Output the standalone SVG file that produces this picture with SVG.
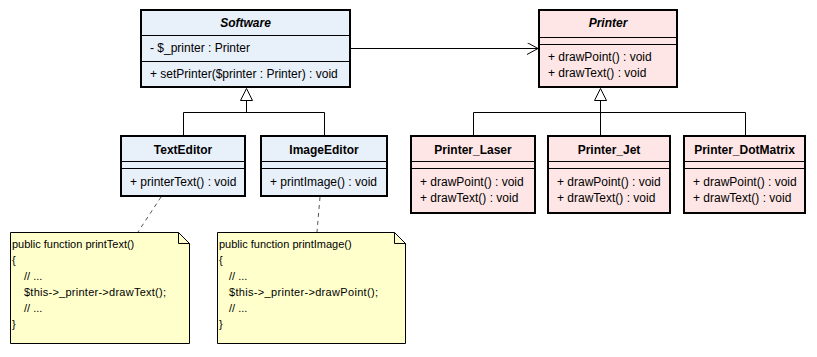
<svg xmlns="http://www.w3.org/2000/svg" width="817" height="357" viewBox="0 0 817 357">
  <defs>
    <style>
      text { font-family: "Liberation Sans", Arial, sans-serif; font-size: 12px; fill: #000; }
      .title { font-weight: bold; font-size: 12px; text-anchor: middle; }
      .abstract { font-style: italic; }
      .code { font-size: 11px; }
      .box { stroke: #000; stroke-width: 2; }
      .blue { fill: #E8F0FA; }
      .pink { fill: #FFE6E6; }
      .div { stroke: #000; stroke-width: 1; }
      .note { fill: #FFFFCC; stroke: #000; stroke-width: 1; }
      .line { fill: none; stroke: #000; stroke-width: 1; }
      .dash { fill: none; stroke: #555; stroke-width: 1; stroke-dasharray: 4 4; }
      .tri { fill: #fff; stroke: #000; stroke-width: 1; }
    </style>
    <marker id="open" viewBox="0 0 12 12" refX="11" refY="6" markerWidth="12" markerHeight="12" markerUnits="userSpaceOnUse" orient="auto">
      <path d="M0,0 L11,6 L0,12" fill="none" stroke="#000" stroke-width="1"/>
    </marker>
  </defs>

  <g id="connectors">
    <!-- association Software -> Printer -->
    <path class="line" d="M350,48.5 H538" marker-end="url(#open)"/>
    <!-- generalization to Software -->
    <path class="line" d="M183.5,135 V112.5 H324.5 V135 M246.5,112.5 V100"/>
    <path class="tri" d="M246.5,88.5 L240.5,100.5 H252.5 Z"/>
    <!-- generalization to Printer -->
    <path class="line" d="M473.5,135 V112.5 H745.5 V135 M600.5,135 V100"/>
    <path class="tri" d="M600.5,88.5 L594.5,100.5 H606.5 Z"/>
    <!-- note anchors -->
    <path class="dash" d="M161,197 L138,232"/>
    <path class="dash" d="M320,197 L317,232"/>
  </g>

  <g id="Software">
    <rect class="box blue" x="141" y="10" width="209" height="77"/>
    <line class="div" x1="141" y1="35.5" x2="350" y2="35.5"/>
    <line class="div" x1="141" y1="61.5" x2="350" y2="61.5"/>
    <text class="title abstract" x="245.5" y="27">Software</text>
    <text x="150" y="52">- $_printer : Printer</text>
    <text x="150" y="78">+ setPrinter($printer : Printer) : void</text>
  </g>

  <g id="Printer">
    <rect class="box pink" x="539" y="10" width="138" height="77"/>
    <line class="div" x1="539" y1="37.5" x2="677" y2="37.5"/>
    <line class="div" x1="539" y1="44.5" x2="677" y2="44.5"/>
    <text class="title abstract" x="608" y="27">Printer</text>
    <text x="548" y="61">+ drawPoint() : void</text>
    <text x="548" y="77">+ drawText() : void</text>
  </g>

  <g id="TextEditor">
    <rect class="box blue" x="121" y="136" width="124" height="60"/>
    <line class="div" x1="121" y1="161.5" x2="245" y2="161.5"/>
    <line class="div" x1="121" y1="168.5" x2="245" y2="168.5"/>
    <text class="title" x="183" y="154">TextEditor</text>
    <text x="130" y="186">+ printerText() : void</text>
  </g>

  <g id="ImageEditor">
    <rect class="box blue" x="261" y="136" width="126" height="60"/>
    <line class="div" x1="261" y1="161.5" x2="387" y2="161.5"/>
    <line class="div" x1="261" y1="168.5" x2="387" y2="168.5"/>
    <text class="title" x="324" y="154">ImageEditor</text>
    <text x="270" y="186">+ printImage() : void</text>
  </g>

  <g id="Printer_Laser">
    <rect class="box pink" x="411" y="136" width="124" height="77"/>
    <line class="div" x1="411" y1="161.5" x2="535" y2="161.5"/>
    <line class="div" x1="411" y1="168.5" x2="535" y2="168.5"/>
    <text class="title" x="473" y="154">Printer_Laser</text>
    <text x="420" y="186">+ drawPoint() : void</text>
    <text x="420" y="202">+ drawText() : void</text>
  </g>

  <g id="Printer_Jet">
    <rect class="box pink" x="548" y="136" width="122" height="77"/>
    <line class="div" x1="548" y1="161.5" x2="670" y2="161.5"/>
    <line class="div" x1="548" y1="168.5" x2="670" y2="168.5"/>
    <text class="title" x="609" y="154">Printer_Jet</text>
    <text x="557" y="186">+ drawPoint() : void</text>
    <text x="557" y="202">+ drawText() : void</text>
  </g>

  <g id="Printer_DotMatrix">
    <rect class="box pink" x="684" y="136" width="121" height="77"/>
    <line class="div" x1="684" y1="161.5" x2="805" y2="161.5"/>
    <line class="div" x1="684" y1="168.5" x2="805" y2="168.5"/>
    <text class="title" x="744.5" y="154">Printer_DotMatrix</text>
    <text x="693" y="186">+ drawPoint() : void</text>
    <text x="693" y="202">+ drawText() : void</text>
  </g>

  <g id="note_printText">
    <path class="note" d="M10.5,232.5 H178.5 L189.5,243.5 V343.5 H10.5 Z"/>
    <path class="line" d="M178.5,232.5 V243.5 H189.5"/>
    <text class="code" x="12" y="248">public function printText()</text>
    <text class="code" x="12" y="264">{</text>
    <text class="code" x="24" y="280">// ...</text>
    <text class="code" x="24" y="296" textLength="142" lengthAdjust="spacing">$this-&gt;_printer-&gt;drawText();</text>
    <text class="code" x="24" y="312">// ...</text>
    <text class="code" x="12" y="328">}</text>
  </g>

  <g id="note_printImage">
    <path class="note" d="M217.5,232.5 H394.5 L405.5,243.5 V343.5 H217.5 Z"/>
    <path class="line" d="M394.5,232.5 V243.5 H405.5"/>
    <text class="code" x="219" y="248">public function printImage()</text>
    <text class="code" x="219" y="264">{</text>
    <text class="code" x="229" y="280">// ...</text>
    <text class="code" x="229" y="296" textLength="149" lengthAdjust="spacing">$this-&gt;_printer-&gt;drawPoint();</text>
    <text class="code" x="229" y="312">// ...</text>
    <text class="code" x="219" y="328">}</text>
  </g>
</svg>
